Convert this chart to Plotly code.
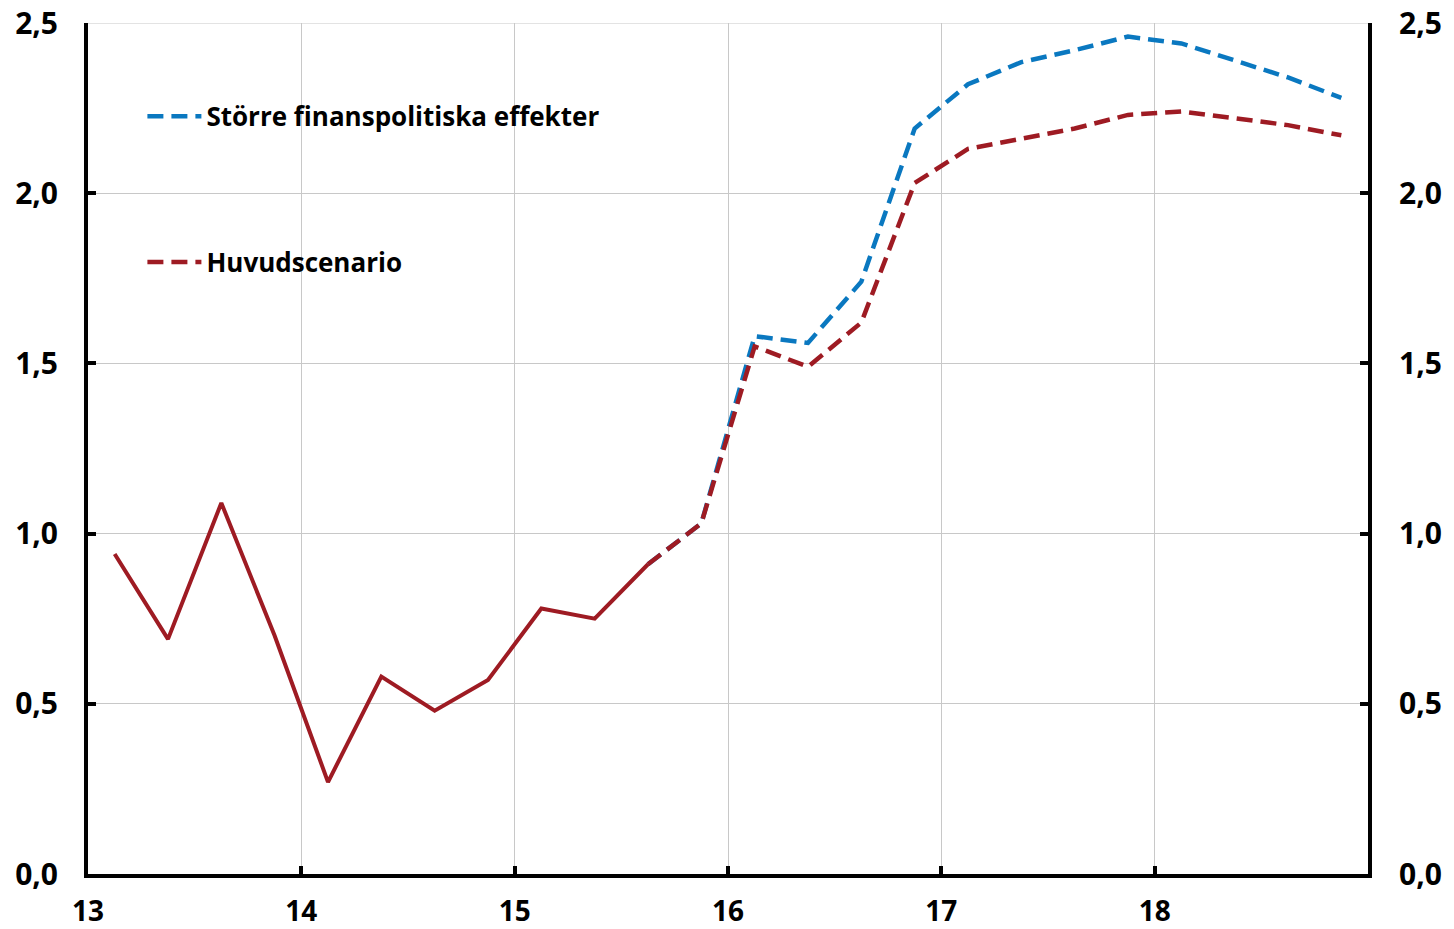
import plotly.graph_objects as go

# Quarters 2013Q1..2018Q4
years = [13, 14, 15, 16, 17, 18]
quarters = [y + (q - 0.5) / 4 for y in years for q in range(1, 5)]

# Outcome (solid) 2013Q1..2015Q3
utfall = [0.94, 0.69, 1.09, 0.70, 0.27, 0.58, 0.48, 0.57, 0.78, 0.75, 0.91]
# Forecasts from 2015Q3..2018Q4
huvud = [0.91, 1.03, 1.55, 1.49, 1.62, 2.03, 2.13, 2.16, 2.19, 2.23, 2.24, 2.22, 2.20, 2.17]
storre = [0.91, 1.03, 1.58, 1.56, 1.74, 2.19, 2.32, 2.385, 2.42, 2.46, 2.44, 2.39, 2.34, 2.28]

xticks = [13, 14, 15, 16, 17, 18]
xticklabels = ["13", "14", "15", "16", "17", "18"]
yticks = [0, 0.5, 1.0, 1.5, 2.0, 2.5]

BLUE = "#0a78c0"
RED = "#9e1b23"
FONT = "Open Sans"

x_fc = quarters[10:]

fig = go.Figure()
fig.add_trace(go.Scatter(
    x=x_fc, y=storre, mode="lines", name="Större finanspolitiska effekter",
    line=dict(color=BLUE, width=4.5, dash="16px,8px"),
    legendgroup="a", legendrank=1, hoverinfo="skip"))
fig.add_trace(go.Scatter(
    x=x_fc, y=huvud, mode="lines", name="Huvudscenario",
    line=dict(color=RED, width=4.5, dash="16px,8px"),
    legendgroup="b", legendrank=2, hoverinfo="skip"))
fig.add_trace(go.Scatter(
    x=quarters[:11], y=utfall, mode="lines", showlegend=False,
    line=dict(color=RED, width=4), hoverinfo="skip"))
# invisible trace to activate right axis
fig.add_trace(go.Scatter(
    x=x_fc, y=huvud, mode="lines", yaxis="y2", showlegend=False,
    line=dict(color="rgba(0,0,0,0)", width=0), hoverinfo="skip"))

axis_font = dict(family=FONT, size=30, color="black", weight="bold")
xaxis_font = dict(family=FONT, size=28, color="black", weight="bold")

fig.update_layout(
    width=1454, height=929,
    margin=dict(l=88, r=86, t=23, b=55, autoexpand=False),
    paper_bgcolor="white", plot_bgcolor="white",
    separators=", ",
    font=dict(family=FONT, color="black"),
    showlegend=True,
    legend=dict(
        x=0.0425, y=0.918, xanchor="left", yanchor="top",
        bgcolor="rgba(0,0,0,0)", traceorder="grouped",
        tracegroupgap=109, itemwidth=54,
        font=dict(family=FONT, size=26, color="black", weight="bold"),
    ),
    xaxis=dict(
        range=[13, 19], tickvals=xticks, ticktext=xticklabels,
        showgrid=True, gridcolor="#c8c8c8", gridwidth=1,
        showline=True, linecolor="black", linewidth=4,
        ticks="inside", ticklen=8, tickwidth=4, tickcolor="black",
        tickfont=xaxis_font, ticklabelstandoff=9, zeroline=False,
        automargin=False,
    ),
    yaxis=dict(
        range=[0, 2.5], tickvals=yticks, tickformat=".1f",
        showgrid=True, gridcolor="#c8c8c8", gridwidth=1,
        showline=True, linecolor="black", linewidth=4,
        ticks="inside", ticklen=8, tickwidth=4, tickcolor="black",
        tickfont=axis_font, ticklabelstandoff=20, zeroline=False,
        automargin=False,
    ),
    yaxis2=dict(
        range=[0, 2.5], tickvals=yticks, tickformat=".1f",
        overlaying="y", side="right", showgrid=False,
        showline=True, linecolor="black", linewidth=4,
        ticks="inside", ticklen=8, tickwidth=4, tickcolor="black",
        tickfont=axis_font, ticklabelstandoff=21, zeroline=False,
        automargin=False,
    ),
)
fig.add_shape(type="line", xref="paper", yref="y", x0=0, x1=1, y0=2.5, y1=2.5,
              line=dict(color="#c8c8c8", width=1), layer="below")

fig.write_html("out.html", config={"displayModeBar": False},
               post_script="document.body.style.margin='0px';")
